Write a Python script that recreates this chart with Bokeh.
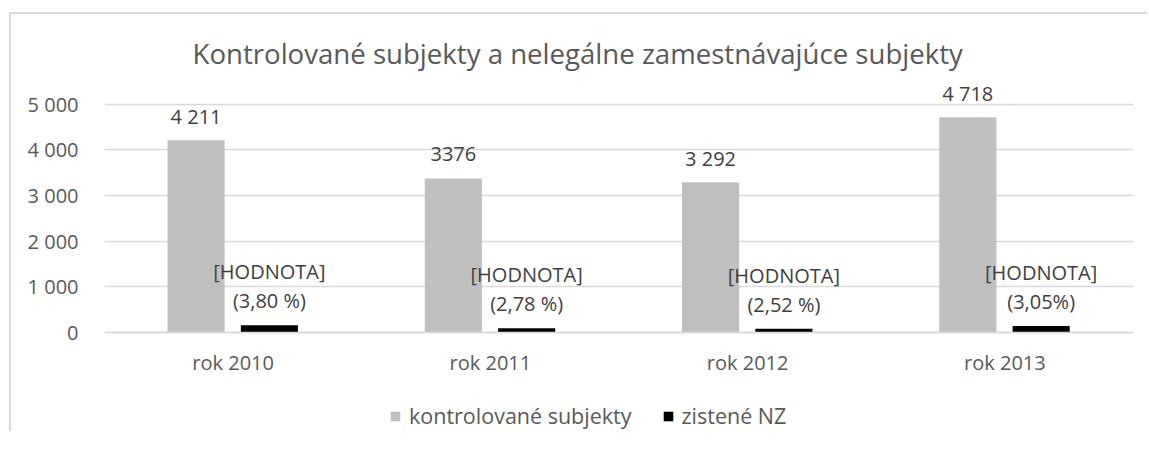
from bokeh.plotting import figure
from bokeh.models import ColumnDataSource, FactorRange, Range1d, Legend, LegendItem, FixedTicker, Title
from bokeh.transform import dodge
from bokeh.core.properties import value
from bokeh.embed import file_html
from bokeh.resources import INLINE

categories = ["rok 2010", "rok 2011", "rok 2012", "rok 2013"]
kontrolovane = [4211, 3376, 3292, 4718]
zistene = [160, 94, 83, 144]
kontrolovane_labels = ["4 211", "3376", "3 292", "4 718"]
zistene_labels = ["[HODNOTA]\n(3,80 %)", "[HODNOTA]\n(2,78 %)",
                  "[HODNOTA]\n(2,52 %)", "[HODNOTA]\n(3,05%)"]
yticks = [0, 1000, 2000, 3000, 4000, 5000]
ytick_labels = ["0", "1 000", "2 000", "3 000", "4 000", "5 000"]
series_names = ["kontrolované subjekty", "zistené NZ"]
title_text = "Kontrolované subjekty a nelegálne zamestnávajúce subjekty"

FONT = "Open Sans"
GRAY = "#bfbfbf"
TXT = "#595959"
LBL = "#404040"

src = ColumnDataSource(dict(cat=categories, k=kontrolovane, z=zistene,
                            kl=kontrolovane_labels, zl=zistene_labels))

p = figure(x_range=FactorRange(*categories, range_padding=0),
           y_range=Range1d(-2170, 5720),
           frame_width=1029, frame_height=360,
           min_border_left=93, min_border_right=14,
           min_border_top=57, min_border_bottom=0,
           output_backend="svg", toolbar_location=None,
           styles={"border-top": "2px solid #d9d9d9",
                   "border-left": "2px solid #d9d9d9",
                   "margin-top": "12px", "margin-left": "9px"})
p.outline_line_color = None
p.background_fill_color = "white"
p.border_fill_color = "white"

t = Title(text=title_text, text_font=FONT, text_font_size="27.6px",
          text_font_style="normal", text_color=TXT, align="left", offset=88,
          standoff=0)
p.add_layout(t, "above")

# axes
p.yaxis.ticker = FixedTicker(ticks=yticks)
p.yaxis.major_label_overrides = {v: s for v, s in zip(yticks, ytick_labels)}
p.yaxis.axis_line_color = None
p.yaxis.major_tick_line_color = None
p.yaxis.minor_tick_line_color = None
p.yaxis.major_label_standoff = 20
p.yaxis.major_label_text_font = FONT
p.yaxis.major_label_text_font_size = "20px"
p.yaxis.major_label_text_color = TXT

p.xaxis.fixed_location = 0
p.xaxis.axis_line_color = "#d9d9d9"
p.xaxis.axis_line_width = 1.5
p.xaxis.major_tick_line_color = None
p.xaxis.minor_tick_line_color = None
p.xaxis.major_label_standoff = 11
p.xaxis.major_label_text_font = FONT
p.xaxis.major_label_text_font_size = "20px"
p.xaxis.major_label_text_color = TXT

p.xgrid.grid_line_color = None
p.ygrid.grid_line_color = "#d9d9d9"
p.ygrid.grid_line_width = 1.5

r1 = p.vbar(x=dodge("cat", -0.144, range=p.x_range), top="k", width=0.222,
            source=src, fill_color=GRAY, line_color=None)
r2 = p.vbar(x=dodge("cat", 0.141, range=p.x_range), top="z", width=0.222,
            source=src, fill_color="black", line_color=None)

p.text(x=dodge("cat", -0.144, range=p.x_range), y="k", text="kl", source=src,
       text_font=value(FONT), text_font_size="20px", text_color=LBL,
       text_align="center", text_baseline="alphabetic", y_offset=-24)
p.text(x=dodge("cat", 0.141, range=p.x_range), y="z", text="zl", source=src,
       text_font=value(FONT), text_font_size="20px", text_color=LBL,
       text_align="center", text_baseline="bottom", y_offset=-11,
       text_line_height=1.07)

legend = Legend(items=[LegendItem(label=series_names[0], renderers=[r1]),
                       LegendItem(label=series_names[1], renderers=[r2])],
                orientation="horizontal", location=(285, 1),
                label_text_font=FONT, label_text_font_size="21.5px",
                label_text_color=TXT, glyph_width=12, glyph_height=12,
                label_standoff=8, spacing=30, padding=0, margin=0,
                label_height=20, border_line_color=None,
                background_fill_alpha=0)
p.add_layout(legend, "center")

open("out.html", "w").write(file_html(p, INLINE))
